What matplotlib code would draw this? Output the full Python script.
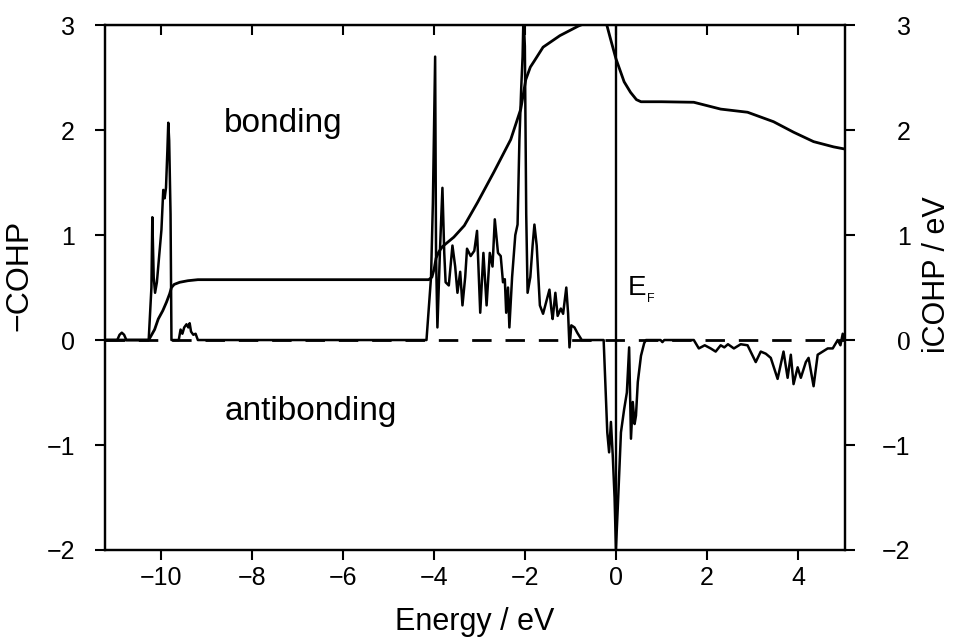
import matplotlib
matplotlib.use("Agg")
import matplotlib.pyplot as plt
from matplotlib import font_manager

# ---------------- data ----------------
cohp_energy = [-11.25, -10.95, -10.9, -10.85, -10.8, -10.75, -10.26, -10.2, -10.18, -10.15, -10.12,
               -10.08, -10.03, -9.98, -9.94, -9.91, -9.88, -9.85, -9.83, -9.81, -9.78, -9.76,
               -9.6, -9.56, -9.52, -9.48, -9.43, -9.39, -9.36, -9.33, -9.28, -9.23, -9.18,
               -4.16, -4.06, -4.02, -3.97, -3.95, -3.92, -3.86, -3.81, -3.77, -3.74, -3.67,
               -3.59, -3.53, -3.48, -3.42, -3.37, -3.31, -3.27, -3.19, -3.11, -3.05, -3.01,
               -2.98, -2.91, -2.84, -2.77, -2.71, -2.66, -2.59, -2.53, -2.48, -2.44, -2.41,
               -2.37, -2.34, -2.28, -2.21, -2.16, -2.12, -2.08, -2.05, -2.03, -2.0, -1.97,
               -1.94, -1.88, -1.83, -1.79, -1.74, -1.67, -1.6, -1.54, -1.46, -1.42, -1.39,
               -1.33, -1.28, -1.21, -1.16, -1.09, -1.05, -1.02, -0.98, -0.91, -0.85, -0.75,
               -0.27, -0.19, -0.15, -0.11, -0.07, -0.03, 0.0, 0.04, 0.11, 0.18, 0.24, 0.29,
               0.33, 0.37, 0.41, 0.44, 0.48, 0.55, 0.62, 0.66, 0.98, 1.02, 1.06, 1.71, 1.82,
               1.95, 2.08, 2.19, 2.3, 2.38, 2.46, 2.59, 2.74, 2.89, 3.07, 3.18, 3.29, 3.4,
               3.55, 3.62, 3.68, 3.77, 3.84, 3.9, 3.99, 4.06, 4.17, 4.23, 4.34, 4.43, 4.54,
               4.65, 4.76, 4.87, 4.93, 4.98, 5.02]
cohp_values = [0.0, 0.0, 0.05, 0.07, 0.05, 0.0, 0.0, 0.5, 1.17, 0.6, 0.45,
               0.55, 0.8, 1.05, 1.43, 1.35, 1.45, 1.8, 2.07, 1.9, 1.2, 0.0,
               0.0, 0.1, 0.06, 0.12, 0.15, 0.12, 0.16, 0.08, 0.05, 0.06, 0.0,
               0.0, 0.6, 1.3, 2.7, 0.8, 0.12, 0.9, 1.45, 0.83, 0.55, 0.52,
               0.9, 0.7, 0.45, 0.65, 0.33, 0.6, 0.87, 0.8, 0.85, 1.04, 0.6,
               0.26, 0.83, 0.33, 0.83, 0.7, 1.15, 0.83, 0.8, 0.55, 0.58, 0.26,
               0.5, 0.12, 0.6, 1.0, 1.1, 1.9, 2.4, 2.7, 3.1, 2.8, 1.2,
               0.45, 0.6, 0.9, 1.1, 0.9, 0.33, 0.25, 0.35, 0.48, 0.3, 0.2,
               0.45, 0.23, 0.3, 0.25, 0.5, 0.25, -0.07, 0.14, 0.12, 0.07, 0.0,
               0.0, -0.88, -1.07, -0.78, -1.1, -1.5, -1.99, -1.6, -0.88, -0.66, -0.5, -0.07,
               -0.94, -0.59, -0.8, -0.72, -0.4, -0.15, -0.03, 0.0, 0.0, -0.02, 0.0, 0.0, -0.08,
               -0.05, -0.08, -0.11, -0.05, -0.07, -0.04, -0.08, -0.04, -0.05, -0.21, -0.11, -0.13, -0.17,
               -0.37, -0.23, -0.11, -0.36, -0.14, -0.42, -0.26, -0.36, -0.21, -0.17, -0.44, -0.14, -0.11,
               -0.08, -0.08, 0.0, -0.05, 0.06, 0.0]

icohp_energy = [-11.25, -10.26, -10.13, -10.05, -9.95, -9.87, -9.8, -9.76, -9.7, -9.58, -9.4, -9.18,
                -4.11, -4.04, -3.99, -3.95, -3.89, -3.81, -3.56, -3.33, -3.04, -2.68, -2.31,
                -2.09, -1.98, -1.88, -1.79, -1.6, -1.23, -0.83, -0.55, -0.32, -0.2, -0.12, 0.0,
                0.09, 0.18, 0.32, 0.45, 0.55, 1.0, 1.71, 2.3, 2.89, 3.46, 3.9, 4.34, 4.78, 5.02]
icohp_values = [0.0, 0.0, 0.1, 0.2, 0.28, 0.36, 0.44, 0.5, 0.53, 0.55, 0.565, 0.575,
                0.575, 0.6, 0.68, 0.78, 0.84, 0.89, 0.98, 1.09, 1.31, 1.6, 1.91,
                2.2, 2.48, 2.6, 2.66, 2.79, 2.9, 2.99, 3.04, 3.05, 3.0, 2.87, 2.68,
                2.57, 2.46, 2.36, 2.29, 2.27, 2.27, 2.265, 2.2, 2.17, 2.08, 1.98, 1.89, 1.84, 1.82]

x_ticks = [-10, -8, -6, -4, -2, 0, 2, 4]
y_ticks = [3, 2, 1, 0, -1, -2]
y_tick_labels = ["3", "2", "1", "0", "\u22121", "\u22122"]
x_tick_labels = ["\u221210", "\u22128", "\u22126", "\u22124", "\u22122", "0", "2", "4"]

# ---------------- style ----------------
def pick(names):
    for n in names:
        try:
            font_manager.findfont(n, fallback_to_default=False)
            return n
        except Exception:
            pass
    return "DejaVu Sans"

sans = pick(["Liberation Sans Narrow", "Liberation Sans", "Arial"])
plt.rcParams["font.family"] = [sans, "DejaVu Sans"]

fig = plt.figure(figsize=(9.63, 6.44), dpi=100)
ax = fig.add_axes([0.109, 0.146, 0.768, 0.815])

ax.plot(cohp_energy, cohp_values, color="black", lw=1.8, zorder=3)
ax.axhline(0, color="black", lw=2.0, ls=(0, (7, 5)), zorder=2)
ax.axvline(0, color="black", lw=1.7, zorder=2)

ax.set_xlim(-11.22, 5.02)
ax.set_ylim(-2, 3)
ax.set_xticks(x_ticks)
ax.set_xticklabels(x_tick_labels)
ax.set_yticks(y_ticks)
ax.set_yticklabels(y_tick_labels)
ax.tick_params(axis="both", direction="out", length=7.5, width=1.5, labelsize=18,
               colors="black")
ax.tick_params(axis="y", pad=14)
ax.tick_params(axis="x", pad=4)
for s in ax.spines.values():
    s.set_linewidth(1.6)

ax.set_xlabel("Energy / eV", fontsize=22, labelpad=12)
ax.set_ylabel("\u2212COHP", fontsize=23)
ax.yaxis.set_label_coords(-0.095, 0.524)

# top ticks inward
top = ax.secondary_xaxis("top")
top.set_xticks(x_ticks)
top.tick_params(direction="in", length=7, width=1.5, labeltop=False)

# right axis
ax2 = ax.twinx()
ax2.plot(icohp_energy, icohp_values, color="black", lw=2.0, zorder=3)
ax2.set_ylim(-2, 3)
ax2.set_yticks(y_ticks)
ax2.set_yticklabels(y_tick_labels)
ax2.tick_params(axis="y", direction="out", length=7.5, width=1.5, labelsize=18, pad=40)
for lab in ax2.get_yticklabels():
    lab.set_horizontalalignment("right")
    if lab.get_text() == "0":
        lab.set_fontfamily(["Liberation Serif", "DejaVu Serif"])
        lab.set_fontsize(20)
ax2.set_ylabel("iCOHP / eV", fontsize=22, rotation=90)
ax2.yaxis.set_label_coords(1.105, 0.524)
for s in ax2.spines.values():
    s.set_linewidth(1.6)

ax.text(-8.6, 2.06, "bonding", fontsize=24, ha="left", va="center")
ax.text(-8.6, -0.68, "antibonding", fontsize=24, ha="left", va="center")
ax.text(0.26, 0.5, "E", fontsize=20, ha="left", va="center")
ax.annotate("F", xy=(0.26, 0.5), xytext=(14, -8), textcoords="offset points",
            fontsize=9, ha="left", va="center")

fig.savefig("out.png", dpi=100)
